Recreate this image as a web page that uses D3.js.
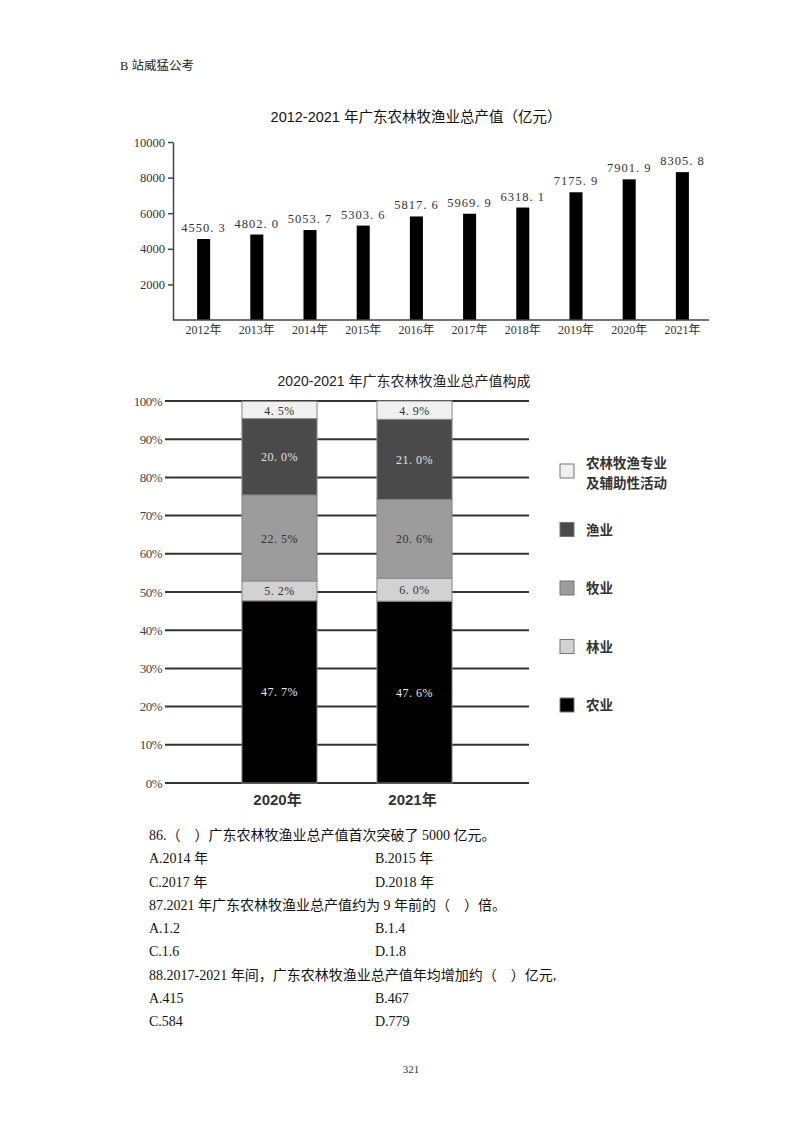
<!DOCTYPE html>
<html><head><meta charset="utf-8">
<script src="https://cdn.jsdelivr.net/npm/d3@7"></script>
<style>
html,body{margin:0;padding:0;background:#fff;}
svg{display:block;}
</style>
</head><body>
<svg id="page" width="800" height="1132"></svg>
<script>
// ---------- data ----------
const years = ['2012年','2013年','2014年','2015年','2016年','2017年','2018年','2019年','2020年','2021年'];
const totals = [4550.3, 4802.0, 5053.7, 5303.6, 5817.6, 5969.9, 6318.1, 7175.9, 7901.9, 8305.8];
const totalTicks = [2000, 4000, 6000, 8000, 10000];

const compYears = ['2020年', '2021年'];
const compCategories = ['农业', '林业', '牧业', '渔业', '农林牧渔专业及辅助性活动'];
const share2020 = [47.7, 5.2, 22.5, 20.0, 4.5];
const share2021 = [47.6, 6.0, 20.6, 21.0, 4.9];
const pctTicks = [0, 10, 20, 30, 40, 50, 60, 70, 80, 90, 100];
const legendLines = [['农林牧渔专业', '及辅助性活动'], ['渔业'], ['牧业'], ['林业'], ['农业']];

const questions = [
  ['86.（　）广东农林牧渔业总产值首次突破了 5000 亿元。'],
  ['A.2014 年', 'B.2015 年'],
  ['C.2017 年', 'D.2018 年'],
  ['87.2021 年广东农林牧渔业总产值约为 9 年前的（　）倍。'],
  ['A.1.2', 'B.1.4'],
  ['C.1.6', 'D.1.8'],
  ['88.2017-2021 年间，广东农林牧渔业总产值年均增加约（　）亿元,'],
  ['A.415', 'B.467'],
  ['C.584', 'D.779']
];

// ---------- page ----------
const svg = d3.select('#page');
const serif = '"Liberation Serif", "Noto Sans CJK SC", serif';
const cjk = '"Liberation Serif", "Noto Sans CJK SC", sans-serif';

svg.append('text').attr('x', 120).attr('y', 70)
  .style('font-family', cjk).style('font-size', '12.5px').attr('fill', '#222')
  .text('B 站威猛公考');

// ---------- chart 1 ----------
const g1 = svg.append('g');
const x1 = d3.scaleBand().domain(years).range([177, 709]).paddingInner(0.755).paddingOuter(0.378);
const y1 = d3.scaleLinear().domain([0, 10000]).range([320, 142]);

g1.append('text').attr('x', 416).attr('y', 122).attr('text-anchor', 'middle')
  .style('font-family', '"Liberation Sans", "Noto Sans CJK SC", sans-serif')
  .style('font-size', '14.5px').attr('fill', '#111')
  .text('2012-2021 年广东农林牧渔业总产值（亿元）');

g1.selectAll('rect.bar').data(totals).join('rect').attr('class', 'bar')
  .attr('x', (d, i) => x1(years[i]))
  .attr('width', x1.bandwidth())
  .attr('y', d => y1(d))
  .attr('height', d => y1(0) - y1(d))
  .attr('fill', '#000');

const yAx1 = g1.append('g').attr('transform', 'translate(173,0)')
  .call(d3.axisLeft(y1).tickValues(totalTicks).tickSize(5).tickSizeOuter(0).tickPadding(3).tickFormat(d3.format('d')));
yAx1.select('.domain').attr('stroke', '#444').attr('stroke-width', 1.5);
yAx1.selectAll('.tick line').attr('stroke', '#444').attr('stroke-width', 1.5);
yAx1.selectAll('.tick text').style('font-family', serif).style('font-size', '12.5px').attr('fill', '#333');

const xAx1 = g1.append('g').attr('transform', 'translate(0,320)')
  .call(d3.axisBottom(x1).tickSize(0).tickPadding(5));
xAx1.select('.domain').attr('d', 'M173,0H709').attr('stroke', '#444').attr('stroke-width', 1.5);
xAx1.selectAll('.tick text').style('font-family', serif).style('font-size', '12px').attr('fill', '#333');

g1.selectAll('text.val').data(totals).join('text').attr('class', 'val')
  .attr('x', (d, i) => x1(years[i]) + x1.bandwidth() / 2)
  .attr('y', d => y1(d) - 7)
  .attr('text-anchor', 'middle')
  .style('font-family', serif).style('font-size', '12.5px').style('letter-spacing', '1px')
  .attr('fill', '#333')
  .text(d => d.toFixed(1).replace('.', '. '));

// ---------- chart 2 ----------
const g2 = svg.append('g');
const x2 = d3.scaleBand().domain(compYears).range([165, 529]).paddingInner(0.444).paddingOuter(0.57);
const y2 = d3.scaleLinear().domain([0, 100]).range([783, 401]);
const colors = ['#000000', '#d2d2d2', '#9c9c9c', '#4a4a4a', '#f0f0f0'];
const textColors = ['#e8e8e8', '#333', '#333', '#e0e0e0', '#333'];

g2.append('text').attr('x', 404).attr('y', 386).attr('text-anchor', 'middle')
  .style('font-family', '"Liberation Sans", "Noto Sans CJK SC", sans-serif')
  .style('font-size', '14px').attr('fill', '#222')
  .text('2020-2021 年广东农林牧渔业总产值构成');

g2.selectAll('line.grid').data(pctTicks).join('line').attr('class', 'grid')
  .attr('x1', 165).attr('x2', 529)
  .attr('y1', d => y2(d)).attr('y2', d => y2(d))
  .attr('stroke', '#333').attr('stroke-width', 2);

g2.selectAll('text.pct').data(pctTicks).join('text').attr('class', 'pct')
  .attr('x', 162).attr('y', d => y2(d)).attr('dy', '0.35em').attr('text-anchor', 'end')
  .style('font-family', serif).style('font-size', '13px').style('letter-spacing', '-0.5px')
  .attr('fill', '#444').text(d => d + '%');

const shares = [share2020, share2021];
const segs = [];
shares.forEach((arr, j) => {
  let acc = 0;
  arr.forEach((v, i) => { segs.push({ year: compYears[j], cat: i, y0: acc, y1: acc + v, v }); acc += v; });
});
g2.selectAll('rect.seg').data(segs).join('rect').attr('class', 'seg')
  .attr('x', d => x2(d.year)).attr('width', x2.bandwidth())
  .attr('y', d => y2(Math.min(d.y1, 100))).attr('height', d => y2(d.y0) - y2(Math.min(d.y1, 100)))
  .attr('fill', d => colors[d.cat]).attr('stroke', '#888').attr('stroke-width', 1);

g2.selectAll('text.seglab').data(segs).join('text').attr('class', 'seglab')
  .attr('x', d => x2(d.year) + x2.bandwidth() / 2)
  .attr('y', d => (y2(d.y0) + y2(Math.min(d.y1, 100))) / 2).attr('dy', '0.38em')
  .attr('text-anchor', 'middle')
  .style('font-family', serif).style('font-size', '12px').style('letter-spacing', '0.5px')
  .attr('fill', d => textColors[d.cat]).text(d => d.v.toFixed(1).replace('.', '. ') + '%');

g2.selectAll('text.cy').data(compYears).join('text').attr('class', 'cy')
  .attr('x', d => x2(d) + x2.bandwidth() / 2 - 2).attr('y', 805).attr('text-anchor', 'middle')
  .style('font-family', '"Liberation Sans", "Noto Sans CJK SC", sans-serif')
  .style('font-size', '15px').style('font-weight', 'bold').attr('fill', '#333').text(d => d);

// legend (top to bottom: reverse category order)
const legOrder = d3.range(compCategories.length).reverse();
const legY = d3.scalePoint().domain(legOrder).range([471, 705]);
const leg = g2.selectAll('g.leg').data(legOrder).join('g').attr('class', 'leg')
  .attr('transform', d => `translate(560,${legY(d)})`);
leg.append('rect').attr('x', 0).attr('y', -7).attr('width', 14).attr('height', 14)
  .attr('fill', d => colors[d]).attr('stroke', '#777').attr('stroke-width', 1);
leg.each(function(d, k) {
  const lines = legendLines[k];
  const t = d3.select(this).append('text').attr('x', 26)
    .style('font-family', '"Noto Sans CJK SC", sans-serif').style('font-size', '13.5px')
    .style('font-weight', 'bold').attr('fill', '#333');
  lines.forEach((s, i) => {
    t.append('tspan').attr('x', 26).attr('y', lines.length > 1 ? -3 + i * 20 : 5).text(s);
  });
});

// ---------- questions ----------
const qY = d3.scalePoint().domain(d3.range(questions.length)).range([840, 1026]);
const qg = svg.append('g');
questions.forEach((row, i) => {
  row.forEach((s, c) => {
    qg.append('text').attr('x', c === 0 ? 149 : 375).attr('y', qY(i))
      .style('font-family', cjk).style('font-size', '14px').attr('fill', '#111').text(s);
  });
});

svg.append('text').attr('x', 411).attr('y', 1073).attr('text-anchor', 'middle')
  .style('font-family', serif).style('font-size', '11px').attr('fill', '#333').text('321');
</script>
</body></html>
